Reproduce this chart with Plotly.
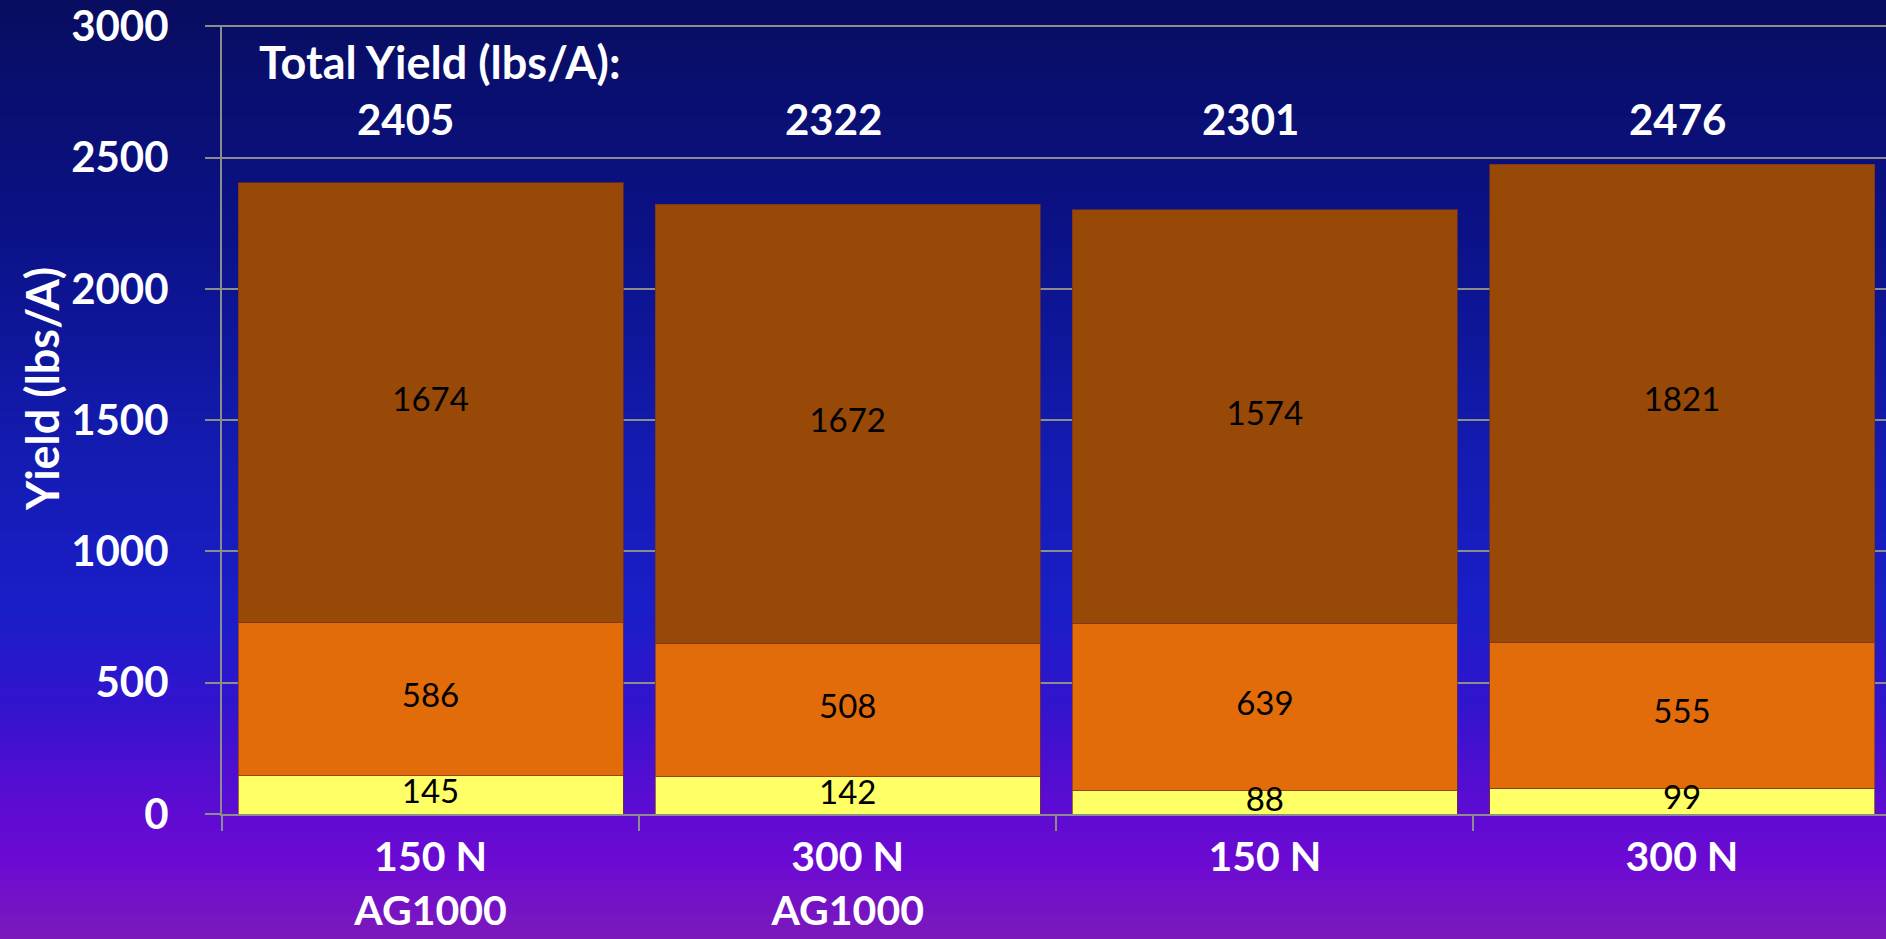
import plotly.graph_objects as go

categories = ["150 N<br>AG1000", "300 N<br>AG1000", "150 N", "300 N"]
bottom_vals = [145, 142, 88, 99]
middle_vals = [586, 508, 639, 555]
top_vals = [1674, 1672, 1574, 1821]
totals = [2405, 2322, 2301, 2476]
y_ticks = [0, 500, 1000, 1500, 2000, 2500, 3000]

W, H = 1886, 939
ML, MR, MT, MB = 222, 0, 25, 125
PW, PH = W - ML - MR, H - MT - MB

colors = ["#FFFF66", "#E36C0A", "#984807"]
series = [bottom_vals, middle_vals, top_vals]

fig = go.Figure()
for vals, col in zip(series, colors):
    fig.add_trace(go.Bar(
        x=categories, y=vals,
        marker=dict(color=col, line=dict(color="rgba(120,50,30,0.7)", width=1)),
        width=0.923, showlegend=False, hoverinfo="skip"))

# segment labels at segment midpoints
base = [0] * len(categories)
for vals in series:
    mids = [b + v / 2 for b, v in zip(base, vals)]
    fig.add_trace(go.Scatter(
        x=categories, y=mids, mode="text", text=[str(v) for v in vals],
        textfont=dict(family="Lato", size=33, color="black"),
        showlegend=False, hoverinfo="skip"))
    base = [b + v for b, v in zip(base, vals)]

# background gradient (style only)
stops = [
    (0.00, (8, 13, 95)),
    (0.25, (11, 18, 135)),
    (0.50, (20, 28, 180)),
    (0.65, (26, 30, 200)),
    (0.75, (50, 20, 205)),
    (0.85, (90, 12, 210)),
    (0.92, (108, 10, 210)),
    (1.00, (124, 26, 186)),
]

def color_at(t):
    for (t0, c0), (t1, c1) in zip(stops[:-1], stops[1:]):
        if t0 <= t <= t1:
            f = (t - t0) / (t1 - t0) if t1 > t0 else 0
            return "rgb(%d,%d,%d)" % tuple(round(a + (b - a) * f) for a, b in zip(c0, c1))
    return "rgb(%d,%d,%d)" % stops[-1][1]

shapes = []
N = 160
for i in range(N):
    t0 = i / N
    t1 = (i + 1) / N
    py0 = t0 * H
    py1 = t1 * H + 1
    y_top = (H - MB - py0) / PH
    y_bot = (H - MB - py1) / PH
    shapes.append(dict(type="rect", xref="paper", yref="paper",
                       x0=-ML / PW - 0.01, x1=1.01, y0=y_bot, y1=y_top,
                       fillcolor=color_at((t0 + t1) / 2), line=dict(width=0), layer="below"))

annotations = [
    dict(text="<b>Total Yield (lbs/A):</b>", xref="paper", yref="y",
         x=(257 - ML) / PW, y=2866, xanchor="left", yanchor="middle", showarrow=False,
         font=dict(family="Lato", size=45, color="white")),
    dict(text="<b>Yield (lbs/A)</b>", xref="paper", yref="paper",
         x=(42 - ML) / PW, y=(H - MB - 389) / PH, textangle=-90, xanchor="center", yanchor="middle",
         showarrow=False, font=dict(family="Lato", size=45, color="white")),
]
total_shifts = [-25, -14, -14, -5]
for cat, tot, sh in zip(categories, totals, total_shifts):
    annotations.append(dict(text="<b>%d</b>" % tot, x=cat, y=2647, xref="x", yref="y",
                            xanchor="center", yanchor="middle", xshift=sh, showarrow=False,
                            font=dict(family="Lato", size=42, color="white")))

fig.update_layout(
    width=W, height=H,
    margin=dict(l=ML, r=MR, t=MT, b=MB, autoexpand=False),
    paper_bgcolor="rgb(60,20,160)", plot_bgcolor="rgba(0,0,0,0)",
    barmode="stack", bargap=0.077,
    shapes=shapes, annotations=annotations,
    xaxis=dict(type="category", range=[-0.5, 3.489], showgrid=False, automargin=False,
               showline=True, linecolor="#8c8c8c", linewidth=2,
               ticks="outside", ticklen=15, tickcolor="#8c8c8c", tickwidth=2, tickson="boundaries",
               tickvals=categories, ticktext=["<b>" + c + "</b>" for c in categories],
               tickfont=dict(family="Lato", size=41, color="white"), ticklabelstandoff=6),
    yaxis=dict(range=[0, 3005], tickvals=y_ticks, ticktext=["<b>%d</b>" % v for v in y_ticks],
               showgrid=True, gridcolor="#8c8c8c", gridwidth=2, automargin=False,
               showline=True, linecolor="#8c8c8c", linewidth=2, zeroline=False,
               ticks="outside", ticklen=15, tickcolor="#8c8c8c", tickwidth=2,
               tickfont=dict(family="Lato", size=42, color="white"), ticklabelstandoff=28),
)

fig.write_html(
    "out.html",
    config={"displayModeBar": False},
    post_script="document.body.style.margin='0';document.documentElement.style.overflow='hidden';",
)
